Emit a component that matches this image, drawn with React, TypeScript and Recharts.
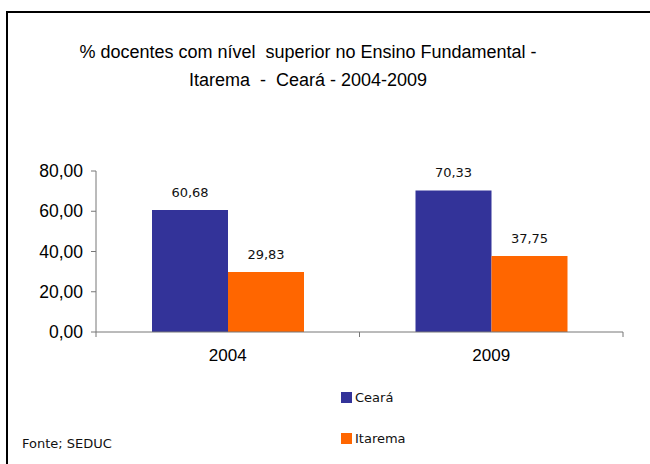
import React from "react";
import { BarChart, Bar, XAxis, YAxis, LabelList, Legend } from "recharts";

const years = ["2004", "2009"];
const ceara = [60.68, 70.33];
const itarema = [29.83, 37.75];
const yTicks = [0, 20, 40, 60, 80];

const data = years.map((year, i) => ({ year, ceara: ceara[i], itarema: itarema[i] }));

const W = 650;
const H = 464;
const margin = { top: 171, right: 27, left: 0, bottom: 0 };
const yAxisWidth = 96;
const band = (W - margin.left - margin.right - yAxisWidth) / years.length;

const fmt = (v: number) => v.toFixed(2).replace(".", ",");

const axisColor = "#777";

const XTick = (props: any) => {
  const { x, y, payload, index } = props;
  const half = band / 2;
  return (
    <g>
      {index === 0 && <line x1={x - half} y1={y} x2={x - half} y2={y + 5} stroke={axisColor} />}
      <line x1={x + half} y1={y} x2={x + half} y2={y + 5} stroke={axisColor} />
      <text x={x} y={y + 29} textAnchor="middle" fontSize={17} fontFamily="Liberation Sans, Arial" fill="#000">
        {payload.value}
      </text>
    </g>
  );
};

const LegendBox = () => (
  <div style={{ fontFamily: "DejaVu Sans, Verdana", fontSize: 13, color: "#111" }}>
    {[
      { name: "Ceará", color: "#333399" },
      { name: "Itarema", color: "#FF6600" },
    ].map((it, i) => (
      <div key={it.name} style={{ display: "flex", alignItems: "center", height: 16, marginTop: i ? 25 : 0 }}>
        <span style={{ width: 11, height: 11, background: it.color, display: "inline-block", marginRight: 3 }} />
        <span>{it.name}</span>
      </div>
    ))}
  </div>
);

export default function App() {
  return (
    <div style={{ position: "absolute", left: 0, top: 0, width: W, height: H, background: "#fff", overflow: "hidden" }}>
      <div
        style={{
          position: "absolute",
          left: 6,
          top: 11,
          width: W,
          height: H,
          borderTop: "2px solid #000",
          borderLeft: "2px solid #000",
        }}
      />
      <div
        style={{
          position: "absolute",
          left: 0,
          top: 38,
          width: 616,
          textAlign: "center",
          fontFamily: "Liberation Sans, Arial",
          fontSize: 18,
          lineHeight: "28px",
          whiteSpace: "pre",
          color: "#000",
        }}
      >
        {"% docentes com nível  superior no Ensino Fundamental -\nItarema  -  Ceará - 2004-2009"}
      </div>
      <div
        style={{
          position: "absolute",
          left: 22,
          top: 436,
          fontFamily: "DejaVu Sans, Verdana",
          fontSize: 13,
          color: "#111",
        }}
      >
        Fonte; SEDUC
      </div>
      <div style={{ position: "absolute", left: 0, top: 0 }}>
        <BarChart width={W} height={H} data={data} margin={margin} barCategoryGap={56} barGap={0}>
          <XAxis
            dataKey="year"
            height={H - 332}
            tickLine={false}
            tickSize={0}
            tickMargin={0}
            axisLine={{ stroke: axisColor }}
            tick={<XTick />}
            interval={0}
          />
          <YAxis
            width={yAxisWidth}
            domain={[0, 80]}
            ticks={yTicks}
            tickFormatter={fmt}
            tickSize={5}
            tickMargin={8}
            axisLine={{ stroke: axisColor }}
            tickLine={{ stroke: axisColor }}
            tick={{ fontSize: 17.5, fill: "#000", fontFamily: "Liberation Sans, Arial" }}
          />
          <Legend
            layout="vertical"
            align="center"
            verticalAlign="middle"
            content={<LegendBox />}
            wrapperStyle={{ position: "absolute", left: 341, top: 389, width: 120 }}
          />
          <Bar dataKey="ceara" name="Ceará" fill="#333399" isAnimationActive={false}>
            <LabelList
              dataKey="ceara"
              position="top"
              offset={13}
              formatter={(v: any) => fmt(Number(v))}
              style={{ fontSize: 13, fill: "#111", fontFamily: "DejaVu Sans, Verdana" }}
            />
          </Bar>
          <Bar dataKey="itarema" name="Itarema" fill="#FF6600" isAnimationActive={false}>
            <LabelList
              dataKey="itarema"
              position="top"
              offset={13}
              formatter={(v: any) => fmt(Number(v))}
              style={{ fontSize: 13, fill: "#111", fontFamily: "DejaVu Sans, Verdana" }}
            />
          </Bar>
        </BarChart>
      </div>
    </div>
  );
}
